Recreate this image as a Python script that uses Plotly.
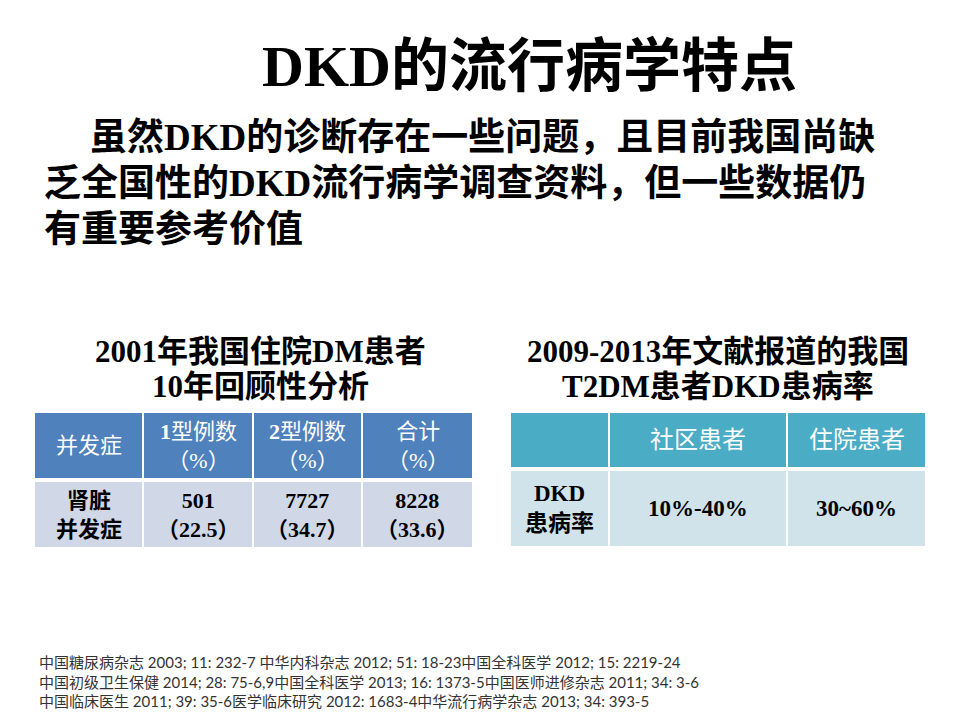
"""
Slide recreation — DKD的流行病学特点.

Two small summary tables drawn as heatmap "cells" on a page-sized
pixel axis, with the texts laid on top as annotations.
"""

import plotly.graph_objects as go

# ── Slide text ────────────────────────────────────────────────────────────────
TITLE = "DKD的流行病学特点"
INTRO_LINES = [
    "虽然DKD的诊断存在一些问题，且目前我国尚缺",
    "乏全国性的DKD流行病学调查资料，但一些数据仍",
    "有重要参考价值",
]

# Left table — 2001 retrospective analysis
LEFT_TITLE = ["2001年我国住院DM患者", "10年回顾性分析"]
LEFT_HEADER = ["并发症", "<b>1</b>型例数<br>（%）", "<b>2</b>型例数<br>（%）", "合计<br>（%）"]
LEFT_ROW_LABEL = "肾脏<br>并发症"
LEFT_COUNTS = [501, 7727, 8228]
LEFT_PCT = [22.5, 34.7, 33.6]

# Right table — 2009-2013 literature
RIGHT_TITLE = ["2009-2013年文献报道的我国", "T2DM患者DKD患病率"]
RIGHT_HEADER = ["", "社区患者", "住院患者"]
RIGHT_ROW_LABEL = "DKD<br>患病率"
RIGHT_RATES = ["10%-40%", "30~60%"]

REFERENCES = [
    "中国糖尿病杂志 2003; 11: 232-7 中华内科杂志 2012; 51: 18-23中国全科医学 2012; 15: 2219-24",
    "中国初级卫生保健 2014; 28: 75-6,9中国全科医学 2013; 16: 1373-5中国医师进修杂志 2011; 34: 3-6",
    "中国临床医生 2011; 39: 35-6医学临床研究 2012: 1683-4中华流行病学杂志 2013; 34: 393-5",
]

# ── Layout constants (page pixels) ────────────────────────────────────────────
W, H = 960, 720
PAGE_PAD = 8  # default <body> margin of the html page
LEFT_COL_EDGES = [34, 143, 253, 362, 473]
LEFT_ROW_EDGES = [411, 480, 549]
RIGHT_COL_EDGES = [510, 609, 787, 926]
RIGHT_ROW_EDGES = [411, 469, 548]

SERIF_CJK = "Liberation Serif, Noto Sans CJK SC"
LEFT_COLOURS = ("#4F81BD", "#D0D8E8")
RIGHT_COLOURS = ("#4BACC6", "#D0E3EA")


def _mid(edges, i):
    return (edges[i] + edges[i + 1]) / 2


def table_trace(col_edges, row_edges, colours):
    n = len(col_edges) - 1
    return go.Heatmap(
        z=[[0] * n, [1] * n],
        x=col_edges,
        y=row_edges,
        zmin=0,
        zmax=1,
        colorscale=[[0, colours[0]], [1, colours[1]]],
        showscale=False,
        xgap=2,
        ygap=4,
        hoverinfo="skip",
    )


def cell_labels(col_edges, row_edges, header, row, header_font, row_font):
    out = []
    for r, (texts, font) in enumerate([(header, header_font), (row, row_font)]):
        for i, txt in enumerate(texts):
            if not txt:
                continue
            out.append(
                dict(
                    x=_mid(col_edges, i),
                    y=_mid(row_edges, r),
                    text=txt,
                    showarrow=False,
                    xanchor="center",
                    yanchor="middle",
                    font=font,
                )
            )
    return out


fig = go.Figure()
fig.add_trace(table_trace(LEFT_COL_EDGES, LEFT_ROW_EDGES, LEFT_COLOURS))
fig.add_trace(table_trace(RIGHT_COL_EDGES, RIGHT_ROW_EDGES, RIGHT_COLOURS))

annotations = []

# Main title and intro paragraph
annotations.append(
    dict(
        x=529, y=66, text=TITLE, showarrow=False,
        xanchor="center", yanchor="middle",
        font=dict(family=SERIF_CJK, size=58, color="#000000", weight="bold"),
    )
)
for k, line in enumerate(INTRO_LINES):
    annotations.append(
        dict(
            x=88 if k == 0 else 42, y=137 + 46 * k, text=line, showarrow=False,
            xanchor="left", yanchor="middle",
            font=dict(family=SERIF_CJK, size=37, color="#000000", weight="bold"),
        )
    )

# Table captions
for tx, lines in ((260, LEFT_TITLE), (718, RIGHT_TITLE)):
    for k, line in enumerate(lines):
        annotations.append(
            dict(
                x=tx, y=351 + 35 * k, text=line, showarrow=False,
                xanchor="center", yanchor="middle",
                font=dict(family=SERIF_CJK, size=31, color="#000000", weight="bold"),
            )
        )

hdr_font = dict(family=SERIF_CJK, size=22, color="#ffffff")
body_font = dict(family=SERIF_CJK, size=22, color="#000000", weight="bold")

left_row = [LEFT_ROW_LABEL] + [f"{c}<br>（{p}）" for c, p in zip(LEFT_COUNTS, LEFT_PCT)]
annotations += cell_labels(
    LEFT_COL_EDGES, LEFT_ROW_EDGES, LEFT_HEADER, left_row, hdr_font, body_font
)

right_row = [RIGHT_ROW_LABEL] + RIGHT_RATES
annotations += cell_labels(
    RIGHT_COL_EDGES, RIGHT_ROW_EDGES, RIGHT_HEADER, right_row,
    dict(family=SERIF_CJK, size=24, color="#ffffff"),
    dict(family=SERIF_CJK, size=23, color="#000000", weight="bold"),
)

# References footer
annotations.append(
    dict(
        x=37, y=651, text="<br>".join(REFERENCES), showarrow=False,
        xanchor="left", yanchor="top", align="left",
        font=dict(family="Lato, Noto Sans CJK SC", size=15, color="#333333"),
    )
)

# The figure sits inside the body margin, so the axes are offset by it
# to keep the page coordinates above equal to window pixels.
fig.update_layout(
    width=W - 2 * PAGE_PAD,
    height=H - 2 * PAGE_PAD,
    margin=dict(l=0, r=0, t=0, b=0),
    paper_bgcolor="#ffffff",
    plot_bgcolor="#ffffff",
    xaxis=dict(range=[PAGE_PAD, W - PAGE_PAD], visible=False, fixedrange=True),
    yaxis=dict(range=[H - PAGE_PAD, PAGE_PAD], visible=False, fixedrange=True),
    annotations=annotations,
    showlegend=False,
)

fig.write_html("out.html")
